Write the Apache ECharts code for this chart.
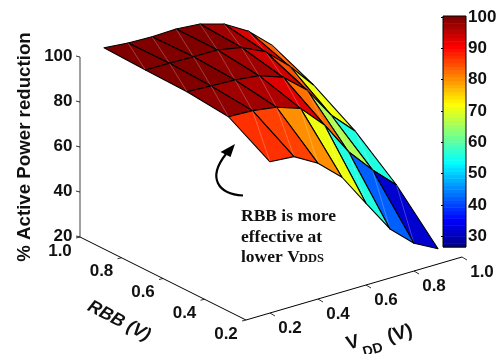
<!DOCTYPE html>
<html>
<head>
<meta charset="utf-8">
<style>
  html, body { margin: 0; padding: 0; background: #fff; }
  #chart { width: 502px; height: 354px; }
</style>
<script src="https://cdn.jsdelivr.net/npm/echarts@6/dist/echarts.min.js"></script>
</head>
<body>
<div id="chart"></div>
<script>
const vddValues = [0.2, 0.3, 0.4, 0.5, 0.6, 0.7, 0.8, 0.9];
const rbbValues = [0.2, 0.4, 0.6, 0.8, 1.0];
const reductionRbb02 = [87.2, 86.4, 80.3, 71.0, 56.3, 41.8, 32.3, 26.8];
const reductionRbb04 = [98.0, 97.6, 96.0, 92.4, 81.9, 66.9, 55.7, 45.9];
const reductionRbb06 = [99.9, 99.3, 98.9, 97.7, 93.9, 85.1, 70.9, 60.7];
const reductionRbb08 = [100.3, 100.2, 100.0, 99.9, 97.9, 92.9, 83.4, 71.9];
const reductionRbb10 = [101.0, 100.0, 99.7, 100.0, 99.1, 96.0, 89.8, 80.4];
const reductionRows = [reductionRbb02, reductionRbb04, reductionRbb06, reductionRbb08, reductionRbb10];

const zTicks = [20, 40, 60, 80, 100];
const rbbTicks = [0.2, 0.4, 0.6, 0.8, 1.0];
const vddTicks = [0.2, 0.4, 0.6, 0.8, 1.0];
const colorbarTicks = [30, 40, 50, 60, 70, 80, 90, 100];
const colorMin = 26.6;
const colorMax = 100.3;
const colorLevels = 64;

// fixed MATLAB style view, floor corner is vdd 0.1 / rbb 0.2 / z 20
function project(vdd, rbb, z) {
  return [
    246 + 240 * (vdd - 0.1) - 207.5 * (rbb - 0.2),
    320 - 70 * (vdd - 0.1) - 103.75 * (rbb - 0.2) - 2.25 * (z - 20),
  ];
}

function jet(t) {
  const part = (c) => Math.round(255 * Math.max(0, Math.min(1, 1.5 - Math.abs(4 * t - c))));
  return 'rgb(' + part(3) + ',' + part(2) + ',' + part(1) + ')';
}

function levelColor(value) {
  let i = Math.floor(((value - colorMin) / (colorMax - colorMin)) * colorLevels);
  i = Math.max(0, Math.min(colorLevels - 1, i));
  return jet((i + 1) / colorLevels);
}

// back to front so the near strips paint last
const cells = [];
for (let r = rbbValues.length - 2; r >= 0; r--) {
  for (let v = vddValues.length - 2; v >= 0; v--) {
    cells.push([r, v]);
  }
}

const levels = [];
for (let i = 0; i < colorLevels; i++) levels.push(i);

const boldFont = 'bold 17px "Liberation Sans", Arial, sans-serif';
const serifFont = 'bold 17.5px "Liberation Serif", "Times New Roman", serif';

const axisLabels = [];
zTicks.forEach((z) => {
  const p = project(0.1, 1.0, z);
  axisLabels.push({ text: String(z), x: p[0] - 7.5, y: p[1] - 1, align: 'right', font: boldFont });
});
rbbTicks.forEach((r) => {
  const p = project(0.1, r, 20);
  axisLabels.push({ text: r.toFixed(1), x: p[0] - 20, y: p[1] + 14, align: 'center', font: boldFont });
});
vddTicks.forEach((v) => {
  const p = project(v, 0.2, 20);
  axisLabels.push({ text: v.toFixed(1), x: p[0] + 20, y: p[1] + 15, align: 'center', font: boldFont });
});
axisLabels.push({ text: '% Active Power reduction', x: 25, y: 147, align: 'center', rotation: Math.PI / 2, font: 'bold 18.7px "Liberation Sans", Arial, sans-serif' });
axisLabels.push({ text: 'RBB (V)', x: 119, y: 321, align: 'center', rotation: -0.48, font: 'italic bold 18px "Liberation Sans", Arial, sans-serif' });
axisLabels.push({ text: 'V', x: 353, y: 343, align: 'center', rotation: 0.28, font: 'bold 19px "Liberation Sans", Arial, sans-serif' });
axisLabels.push({ text: 'DD', x: 373, y: 350, align: 'center', rotation: 0.28, font: 'bold 14px "Liberation Sans", Arial, sans-serif' });
axisLabels.push({ text: '(V)', x: 400, y: 334, align: 'center', rotation: 0.28, font: 'bold 19px "Liberation Sans", Arial, sans-serif' });
axisLabels.push({ text: 'RBB is more', x: 241, y: 216, align: 'left', font: serifFont });
axisLabels.push({ text: 'effective at', x: 241, y: 237, align: 'left', font: serifFont });
axisLabels.push({ text: 'lower V', x: 241, y: 257, align: 'left', font: serifFont });
axisLabels.push({ text: 'DDS', x: 299, y: 259, align: 'left', font: 'bold 12.5px "Liberation Serif", "Times New Roman", serif' });

function renderCell(params, api) {
  const r = api.value(0);
  const v = api.value(1);
  const corner = (ri, vi) => api.coord(project(vddValues[vi], rbbValues[ri], reductionRows[ri][vi]));
  const a = corner(r, v);
  const b = corner(r, v + 1);
  const c = corner(r + 1, v + 1);
  const d = corner(r + 1, v);
  return {
    type: 'group',
    children: [
      {
        type: 'polygon',
        shape: { points: [a, b, c, d] },
        style: { fill: levelColor(reductionRows[r][v]), stroke: '#000', lineWidth: 1.1, lineJoin: 'round' },
      },
      {
        type: 'line',
        shape: { x1: a[0], y1: a[1], x2: c[0], y2: c[1] },
        style: { stroke: 'rgba(255,255,255,0.35)', lineWidth: 0.7 },
      },
    ],
  };
}

function renderAxes(params, api) {
  const line = (p, q, color, width) => {
    const a = api.coord(p);
    const b = api.coord(q);
    return { type: 'line', shape: { x1: a[0], y1: a[1], x2: b[0], y2: b[1] }, style: { stroke: color, lineWidth: width } };
  };
  const shift = (p, dx, dy) => [p[0] + dx, p[1] + dy];
  const children = [
    line(project(0.1, 1.0, 20), project(0.1, 1.0, 100), '#808080', 1.5),
    line(project(0.1, 1.0, 20), project(0.1, 0.2, 20), '#000', 1),
    line(project(0.1, 0.2, 20), project(1.0, 0.2, 20), '#000', 1),
  ];
  zTicks.forEach((z) => {
    const p = project(0.1, 1.0, z);
    children.push(line(p, shift(p, -4, -1), '#000', 0.8));
  });
  rbbTicks.forEach((r) => {
    const p = project(0.1, r, 20);
    children.push(line(p, shift(p, -4, 1), '#000', 0.8));
  });
  vddTicks.forEach((v) => {
    const p = project(v, 0.2, 20);
    children.push(line(p, shift(p, 5, 3), '#000', 0.8));
  });
  return { type: 'group', children };
}

function renderLabel(params, api) {
  const item = axisLabels[params.dataIndex];
  const p = api.coord([item.x, item.y]);
  return {
    type: 'text',
    x: p[0],
    y: p[1],
    rotation: item.rotation || 0,
    style: { text: item.text, font: item.font, fill: '#111', align: item.align, verticalAlign: 'middle' },
  };
}

function renderLevel(params, api) {
  const i = api.value(0);
  const span = (colorMax - colorMin) / colorLevels;
  const low = api.coord([0, colorMin + i * span]);
  const high = api.coord([1, colorMin + (i + 1) * span]);
  return {
    type: 'rect',
    shape: { x: low[0], y: high[1], width: high[0] - low[0], height: low[1] - high[1] + 0.5 },
    style: { fill: jet((i + 1) / colorLevels) },
  };
}

const chart = echarts.init(document.getElementById('chart'));
chart.setOption({
  animation: false,
  backgroundColor: '#fff',
  grid: [
    { left: 0, top: 0, width: 502, height: 354 },
    { left: 443, top: 16, width: 23, height: 231, show: true, borderColor: '#000', borderWidth: 1, z: 5 },
  ],
  xAxis: [
    { type: 'value', gridIndex: 0, min: 0, max: 502, show: false },
    { type: 'value', gridIndex: 1, min: 0, max: 1, show: false },
  ],
  yAxis: [
    { type: 'value', gridIndex: 0, min: 0, max: 354, inverse: true, show: false },
    {
      type: 'value',
      gridIndex: 1,
      position: 'right',
      min: colorMin,
      max: colorMax,
      splitLine: { show: false },
      axisLine: { show: false },
      axisTick: { inside: true, length: 2, customValues: colorbarTicks, lineStyle: { color: '#000' } },
      axisLabel: {
        customValues: colorbarTicks,
        margin: 2,
        color: '#111',
        fontFamily: 'Liberation Sans',
        fontWeight: 'bold',
        fontSize: 17,
        formatter: (value) => String(value),
      },
    },
    {
      type: 'value',
      gridIndex: 1,
      position: 'left',
      min: colorMin,
      max: colorMax,
      splitLine: { show: false },
      axisLine: { show: false },
      axisTick: { inside: true, length: 2, customValues: colorbarTicks, lineStyle: { color: '#000' } },
      axisLabel: { show: false },
    },
  ],
  series: [
    { type: 'custom', silent: true, xAxisIndex: 0, yAxisIndex: 0, clip: false, z: 2, renderItem: renderAxes, data: [[0]] },
    { type: 'custom', silent: true, xAxisIndex: 0, yAxisIndex: 0, clip: false, z: 3, renderItem: renderCell, data: cells },
    { type: 'custom', silent: true, xAxisIndex: 0, yAxisIndex: 0, clip: false, z: 4, renderItem: renderLabel, data: axisLabels.map((l, i) => [i]) },
    { type: 'custom', silent: true, xAxisIndex: 1, yAxisIndex: 1, clip: false, z: 1, renderItem: renderLevel, data: levels.map((i) => [i]) },
  ],
  graphic: [
    {
      type: 'bezierCurve',
      silent: true,
      shape: { x1: 243, y1: 195.5, cpx1: 218, cpy1: 194, cpx2: 207, cpy2: 178, x2: 226, y2: 154 },
      style: { stroke: '#000', lineWidth: 2.2, fill: 'none' },
    },
    {
      type: 'polygon',
      silent: true,
      shape: { points: [[235, 144], [220.5, 152], [230.5, 157]] },
      style: { fill: '#000' },
    },
  ],
});
</script>
</body>
</html>
